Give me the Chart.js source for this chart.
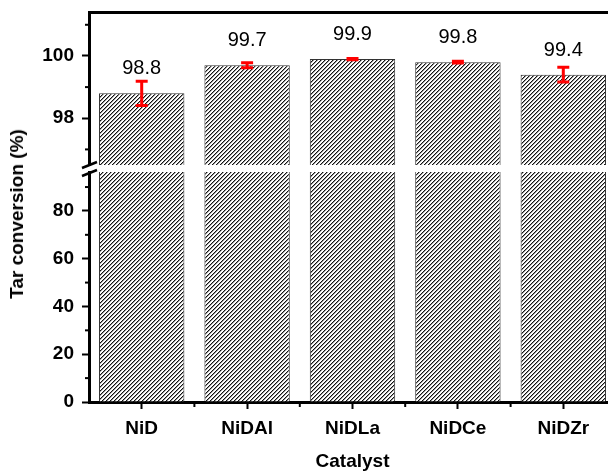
<!DOCTYPE html>
<html>
<head>
<meta charset="utf-8">
<script src="https://cdn.jsdelivr.net/npm/chart.js@4.4.1/dist/chart.umd.min.js"></script>
<style>
  html, body { margin: 0; padding: 0; background: #fff; overflow: hidden; }
  #wrap { position: relative; width: 608px; height: 471px; overflow: hidden; }
  #topChart { position: absolute; left: 0; top: 0; }
  #bottomChart { position: absolute; left: 0; top: 150px; }
  #yTitle {
    position: absolute; left: 17px; top: 214px;
    transform: translate(-50%, -50%) rotate(-90deg);
    font: bold 19px "Liberation Sans", Arial, sans-serif;
    white-space: nowrap; color: #000;
  }
</style>
</head>
<body>
<div id="wrap">
  <canvas id="topChart" width="616" height="170"></canvas>
  <canvas id="bottomChart" width="616" height="321"></canvas>
  <div id="yTitle">Tar conversion (%)</div>
</div>
<script>
const catalysts = ['NiD', 'NiDAl', 'NiDLa', 'NiDCe', 'NiDZr'];
const conversion = [98.8, 99.7, 99.9, 99.8, 99.4];
const conversionErr = [0.39, 0.08, 0.02, 0.03, 0.24];
const upperMajorTicks = [98, 100];
const upperMinorTicks = [97, 99, 101];
const lowerMajorTicks = [0, 20, 40, 60, 80];
const lowerMinorTicks = [10, 30, 50, 70, 90];

Chart.defaults.font.family = '"Liberation Sans", Arial, sans-serif';
Chart.defaults.color = '#000';

// "////" hatch fill for the bars, drawn pixel by pixel
function makeHatch(ctx) {
  const s = 4;
  const c = document.createElement('canvas');
  c.width = s; c.height = s;
  const g = c.getContext('2d');
  for (let px = 0; px < s; px++) {
    for (let py = 0; py < s; py++) {
      const k = (px + py) % s;
      g.fillStyle = k === 0 ? '#111' : (k === 1 ? '#999' : '#fff');
      g.fillRect(px, py, 1, 1);
    }
  }
  return ctx.createPattern(c, 'repeat');
}

function drawMinorY(chart, values) {
  const { ctx, scales: { y }, chartArea } = chart;
  ctx.save();
  ctx.strokeStyle = '#000';
  ctx.lineWidth = 2;
  values.forEach(v => {
    const py = y.getPixelForValue(v);
    ctx.beginPath();
    ctx.moveTo(chartArea.left - 4, py);
    ctx.lineTo(chartArea.left, py);
    ctx.stroke();
  });
  ctx.restore();
}

// no label overhang padding, so the plot areas land where they should
function fixY(s) {
  s.width = 89;
  s.paddingTop = 0;
  s.paddingBottom = 0;
}

const upperExtras = {
  id: 'upperExtras',
  afterDraw(chart) {
    drawMinorY(chart, upperMinorTicks);
    const { ctx, scales: { y } } = chart;
    const bars = chart.getDatasetMeta(0).data;
    ctx.save();
    // error bars
    ctx.strokeStyle = '#ff0000';
    ctx.lineWidth = 3;
    bars.forEach((bar, i) => {
      const yHi = y.getPixelForValue(conversion[i] + conversionErr[i]);
      const yLo = y.getPixelForValue(conversion[i] - conversionErr[i]);
      ctx.beginPath();
      ctx.moveTo(bar.x, yHi); ctx.lineTo(bar.x, yLo);
      ctx.moveTo(bar.x - 6, yHi); ctx.lineTo(bar.x + 6, yHi);
      ctx.moveTo(bar.x - 6, yLo); ctx.lineTo(bar.x + 6, yLo);
      ctx.stroke();
    });
    // value labels
    ctx.fillStyle = '#000';
    ctx.font = '20px "Liberation Sans", Arial, sans-serif';
    ctx.textAlign = 'center';
    ctx.textBaseline = 'alphabetic';
    bars.forEach((bar, i) => ctx.fillText(conversion[i].toFixed(1), bar.x, bar.y - 19));
    ctx.restore();
  }
};

const lowerExtras = {
  id: 'lowerExtras',
  afterDraw(chart) {
    drawMinorY(chart, lowerMinorTicks);
    const { ctx, scales: { x }, chartArea } = chart;
    ctx.save();
    ctx.strokeStyle = '#000';
    ctx.lineWidth = 2;
    // minor ticks between categories
    for (let i = 0; i < catalysts.length - 1; i++) {
      const px = x.getPixelForValue(i + 0.5);
      ctx.beginPath();
      ctx.moveTo(px, chartArea.bottom);
      ctx.lineTo(px, chartArea.bottom + 5);
      ctx.stroke();
    }
    // axis break marks
    const l = chartArea.left, t = chartArea.top;
    ctx.lineWidth = 2.5;
    ctx.beginPath();
    ctx.moveTo(l - 7, t - 4); ctx.lineTo(l + 8, t - 10);
    ctx.moveTo(l - 7, t + 4); ctx.lineTo(l + 8, t - 2);
    ctx.stroke();
    ctx.restore();
  }
};

const topCtx = document.getElementById('topChart').getContext('2d');
const bottomCtx = document.getElementById('bottomChart').getContext('2d');

function barDataset(ctx) {
  return {
    data: conversion,
    backgroundColor: makeHatch(ctx),
    borderColor: '#333',
    borderWidth: 1,
    borderSkipped: 'start',
    barPercentage: 0.81,
    categoryPercentage: 1,
    clip: 0
  };
}

const yTickFont = { size: 19, weight: 'bold' };

new Chart(topCtx, {
  type: 'bar',
  data: { labels: catalysts, datasets: [barDataset(topCtx)] },
  options: {
    responsive: false,
    animation: false,
    layout: { padding: { top: 12, bottom: 5, left: 0, right: 0 } },
    plugins: { legend: { display: false }, tooltip: { enabled: false } },
    scales: {
      x: {
        position: 'top',
        afterFit: s => { s.height = 0; s.paddingLeft = 0; s.paddingRight = 0; },
        ticks: { display: false },
        grid: { display: false },
        border: { display: true, width: 3, color: '#000' }
      },
      y: {
        min: 96.5,
        max: 101.41,
        afterFit: fixY,
        afterBuildTicks: s => { s.ticks = upperMajorTicks.map(v => ({ value: v })); },
        ticks: { color: '#000', font: yTickFont, padding: 8 },
        grid: { drawOnChartArea: false, tickLength: 7, tickWidth: 2, color: '#000' },
        border: { width: 3, color: '#000' }
      }
    }
  },
  plugins: [upperExtras]
});

new Chart(bottomCtx, {
  type: 'bar',
  data: { labels: catalysts, datasets: [barDataset(bottomCtx)] },
  options: {
    responsive: false,
    animation: false,
    layout: { padding: { top: 22, bottom: 0, left: 0, right: 0 } },
    plugins: { legend: { display: false }, tooltip: { enabled: false } },
    scales: {
      x: {
        afterFit: s => { s.height = 69; s.paddingLeft = 0; s.paddingRight = 0; },
        ticks: { color: '#000', font: { size: 19, weight: 'bold' }, padding: 8 },
        grid: { offset: false, drawOnChartArea: false, tickLength: 7, tickWidth: 2, color: '#000' },
        border: { width: 3, color: '#000' },
        title: {
          display: true, text: 'Catalyst', color: '#000',
          font: { size: 19, weight: 'bold', lineHeight: 1 }, padding: 0
        }
      },
      y: {
        min: 0,
        max: 96.3,
        afterFit: fixY,
        afterBuildTicks: s => { s.ticks = lowerMajorTicks.map(v => ({ value: v })); },
        ticks: { color: '#000', font: yTickFont, padding: 8 },
        grid: { drawOnChartArea: false, tickLength: 7, tickWidth: 2, color: '#000' },
        border: { width: 3, color: '#000' }
      }
    }
  },
  plugins: [lowerExtras]
});
</script>
</body>
</html>
